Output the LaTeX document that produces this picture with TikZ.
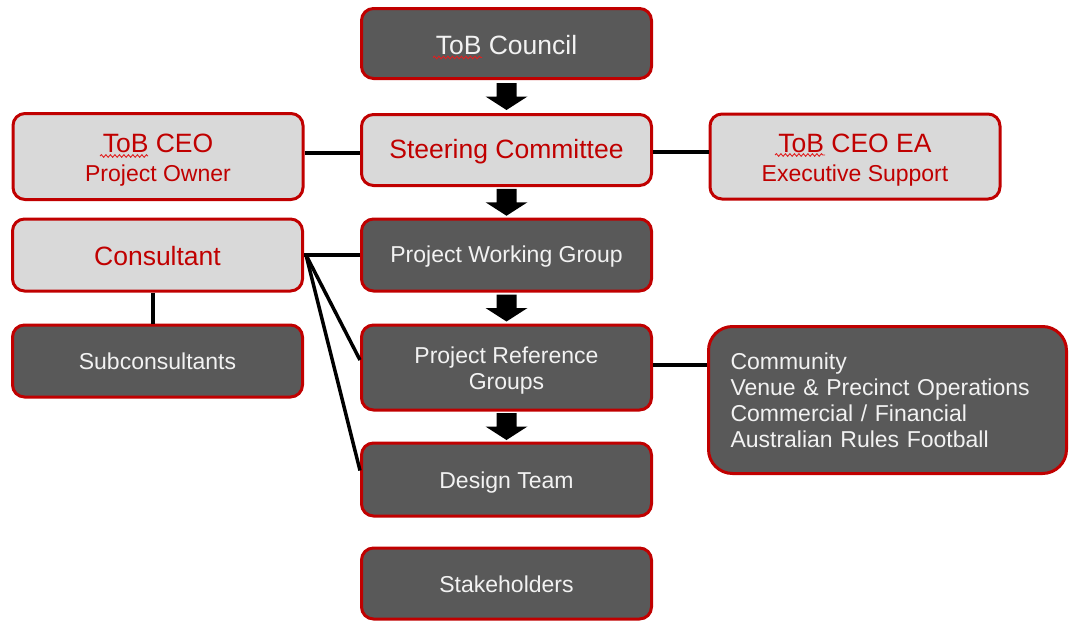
\documentclass[tikz,border=0pt]{standalone}
\usepackage{fontspec}
\setmainfont{Liberation Sans}
\usetikzlibrary{calc,decorations.pathmorphing}
\definecolor{boxred}{HTML}{C00000}
\definecolor{darkfill}{HTML}{595959}
\definecolor{lightfill}{HTML}{D9D9D9}
\definecolor{lighttext}{HTML}{F2F2F2}
\definecolor{spellred}{HTML}{E02020}
\newcommand\bigtxt{\fontsize{26.5}{29}\selectfont}
\newcommand\smalltxt{\fontsize{23}{26}\selectfont}
\tikzset{
  box/.style={draw=boxred, line width=3pt, rounded corners=12pt, minimum width=290pt, inner sep=0pt, align=center},
  darkbox/.style={box, fill=darkfill, text=lighttext},
  lightbox/.style={box, fill=lightfill, text=boxred},
  conn/.style={draw=black, line width=3.5pt},
  spellwave/.style={draw=spellred, line width=0.9pt, decorate, decoration={snake, amplitude=1.3pt, segment length=4.5pt}},
  blockarrow/.pic={\fill[black] (-10,-13.5) -- (10,-13.5) -- (10,0) -- (21,0) -- (0,13.5) -- (-21,0) -- (-10,0) -- cycle;}
}
\begin{document}
\begin{tikzpicture}[x=1pt,y=-1pt]
\useasboundingbox (0,0) rectangle (1069,621);
\node[darkbox, minimum height=70pt, font=\bigtxt, text height=22pt, text depth=0pt] (council) at (506.5,43.5) {ToB Council};
\node[lightbox, minimum height=71pt, font=\bigtxt, text height=21pt, text depth=5pt] (steer) at (506.5,150) {Steering Committee};
\node[lightbox, minimum height=86pt, font=\smalltxt] (ceo) at (158,156.5) {{\bigtxt\rule{0pt}{25.5pt}ToB CEO}\\[3pt]Project Owner};
\node[lightbox, minimum height=85pt, font=\smalltxt] (ea) at (855,156.5) {{\bigtxt\rule{0pt}{25.5pt}ToB CEO EA}\\[3pt]Executive Support};
\node[lightbox, minimum height=72pt, font=\bigtxt, text height=20pt, text depth=0pt] (cons) at (157.5,255) {Consultant};
\node[darkbox, minimum height=72pt, font=\smalltxt, text height=19pt, text depth=5pt] (pwg) at (506.5,255) {Project Working Group};
\node[darkbox, minimum height=72pt, font=\smalltxt, text height=16pt, text depth=0pt] (sub) at (157.5,361) {Subconsultants};
\node[darkbox, minimum height=85pt, font=\smalltxt] (prg) at (506.5,367.5) {\rule{0pt}{22pt}Project Reference\\Groups};
\node[darkbox, minimum width=358pt, minimum height=147pt, rounded corners=24pt, text width=314pt, inner xsep=22pt, align=left, font=\smalltxt] (comm) at (887.5,400) {Community\\Venue \& Precinct Operations\\Commercial / Financial\\Australian Rules Football};
\node[darkbox, minimum height=73pt, font=\smalltxt, text height=22.6pt, text depth=5pt] (design) at (506.5,479.5) {Design Team};
\node[darkbox, minimum height=71pt, font=\smalltxt, text height=18.4pt, text depth=0pt] (stake) at (506.5,583.5) {Stakeholders};
% spell-check squiggles under "ToB"
\draw[spellwave] ($(council.center)+(-73.5,14)$) -- ($(council.center)+(-24.5,14)$);
\draw[spellwave] ($(ceo.center)+(-58,-0.5)$) -- ($(ceo.center)+(-10,-0.5)$);
\draw[spellwave] ($(ea.center)+(-80,-1.5)$) -- ($(ea.center)+(-30,-1.5)$);
% block arrows
\pic at ($(council.south)!0.5!(steer.north)$) {blockarrow};
\pic at ($(steer.south)!0.5!(pwg.north)$) {blockarrow};
\pic at ($(pwg.south)!0.5!(prg.north)$) {blockarrow};
\pic at ($(prg.south)!0.5!(design.north)$) {blockarrow};
% connectors
\coordinate (a1) at ($(steer.west)+(0,3)$);
\draw[conn] (a1 -| ceo.east) -- (a1);
\coordinate (a2) at ($(steer.east)+(0,2)$);
\draw[conn] (a2) -- (a2 -| ea.west);
\coordinate (fan) at ($(cons.east)+(2,0)$);
\draw[conn] (cons.east) -- (cons.east -| pwg.west);
\draw[conn] (fan) -- ($(prg.west)+(0,-7.5)$);
\draw[conn] (fan) -- ($(design.west)+(0,-9)$);
\coordinate (a3) at ($(cons.south)+(-4.5,0)$);
\draw[conn] (a3) -- (a3 |- sub.north);
\coordinate (a4) at ($(prg.east)+(0,-2.5)$);
\draw[conn] (a4) -- (a4 -| comm.west);
\end{tikzpicture}
\end{document}
